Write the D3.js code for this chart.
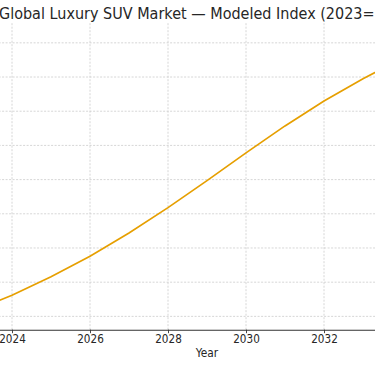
<!DOCTYPE html>
<html>
<head>
<meta charset="utf-8">
<script src="https://cdn.jsdelivr.net/npm/d3@7"></script>
<style>
  html, body { margin: 0; padding: 0; background: #fff; overflow: hidden; }
  text { font-family: "DejaVu Sans", sans-serif; }
</style>
</head>
<body>
<div id="chart"></div>
<script>
// modeled index, one point per year
var years = [2023, 2024, 2025, 2026, 2027, 2028, 2029, 2030, 2031, 2032, 2033, 2034, 2035];
var index = [101.5, 106.2, 111.6, 117.6, 124.4, 131.8, 139.7, 147.8, 155.7, 163.0, 169.5, 175.4, 180.7];
var xTicks = [2024, 2026, 2028, 2030, 2032, 2034];
var yTicks = [100, 110, 120, 130, 140, 150, 160, 170, 180];
var title = "Global Luxury SUV Market \u2014 Modeled Index (2023=100)";

var width = 375, height = 366;
// the view is a crop of a wider figure: plot area runs past both edges
var margin = {top: 23, bottom: 36.3, left: -50.4, right: -89.4};
var squeeze = 0.9; // text in the reference is slightly narrowed

var svg = d3.select("#chart").append("svg")
    .attr("width", width)
    .attr("height", height);

var x = d3.scaleLinear()
    .domain([2022.4, 2035.6])
    .range([margin.left, width - margin.right]);

var y = d3.scaleLinear()
    .domain([96.1, 185.8])
    .range([height - margin.bottom, margin.top]);

var grid = svg.append("g").attr("class", "grid")
    .attr("stroke", "#cccccc")
    .attr("stroke-width", 0.8)
    .attr("stroke-dasharray", "2,1.5");

grid.selectAll("line.h")
    .data(yTicks)
  .enter().append("line")
    .attr("class", "h")
    .attr("x1", x.range()[0]).attr("x2", x.range()[1])
    .attr("y1", function(d){ return y(d); })
    .attr("y2", function(d){ return y(d); });

grid.selectAll("line.v")
    .data(xTicks)
  .enter().append("line")
    .attr("class", "v")
    .attr("y1", y.range()[0]).attr("y2", y.range()[1])
    .attr("x1", function(d){ return x(d); })
    .attr("x2", function(d){ return x(d); });

// x axis
var xAxis = svg.append("g")
    .attr("transform", "translate(0," + y.range()[0] + ")")
    .call(d3.axisBottom(x).tickValues(xTicks).tickFormat(d3.format("d")).tickSize(3.5).tickPadding(1.8));
xAxis.select(".domain").attr("stroke", "#333").attr("stroke-width", 1.1);
xAxis.selectAll(".tick line").attr("stroke", "#333").attr("stroke-width", 0.9);
xAxis.selectAll(".tick text")
    .attr("fill", "#262626")
    .attr("transform", "scale(" + squeeze + ",1)")
    .style("font-size", "11.6px")
    .style("font-family", "DejaVu Sans, sans-serif");

svg.append("text")
    .attr("transform", "translate(" + ((x.range()[0] + x.range()[1]) / 2) + ",357) scale(" + squeeze + ",1)")
    .attr("text-anchor", "middle")
    .attr("fill", "#262626")
    .style("font-size", "11.8px")
    .text("Year");

// series
var line = d3.line()
    .x(function(d, i){ return x(years[i]); })
    .y(function(d){ return y(d); });

svg.append("path")
    .datum(index)
    .attr("fill", "none")
    .attr("stroke", "#E69F00")
    .attr("stroke-width", 1.7)
    .attr("d", line);

svg.append("text")
    .attr("transform", "translate(-1,18.5) scale(" + squeeze + ",1)")
    .attr("fill", "#262626")
    .style("font-size", "16px")
    .text(title);
</script>
</body>
</html>
